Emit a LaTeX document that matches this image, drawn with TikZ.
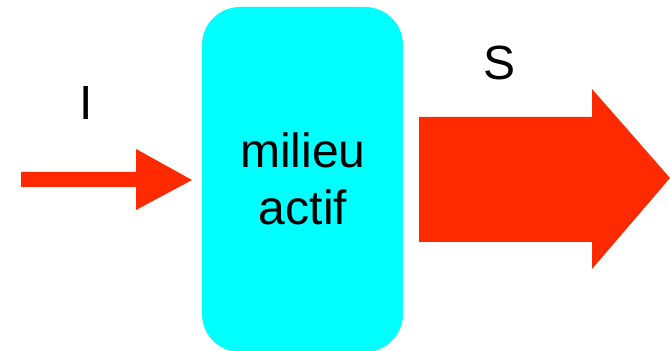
\documentclass[tikz,border=0pt]{standalone}
\usepackage{fontspec}
\setmainfont{Liberation Sans}
\definecolor{arrowred}{HTML}{FF2A00}
\definecolor{boxcyan}{HTML}{00FFFF}
\begin{document}
\begin{tikzpicture}[x=1pt,y=1pt,
  bigtext/.style={font=\fontsize{48}{57}\selectfont, inner sep=0pt},
  arrowshape/.style={fill=arrowred, draw=none}]
\useasboundingbox (0,0) rectangle (670,351);
\begin{scope}
\clip (0,0) rectangle (670,351);
\fill[boxcyan, rounded corners=38pt] (202,-1) rectangle (403,344);
\end{scope}
\node[bigtext, anchor=base] (milieu) at (303,183) {milieu};
\node[bigtext, anchor=base] (actif) at (303,126) {actif};
\node[bigtext, anchor=base] (I) at (86,231) {I};
\node[bigtext, anchor=base] (S) at (500,271) {S};
\fill[arrowshape] (21,179) -- (136,179) -- (136,202) -- (192,171) -- (136,141) -- (136,164) -- (21,164) -- cycle;
\fill[arrowshape] (419,234) -- (592,234) -- (592,262) -- (670,173) -- (592,82) -- (592,109) -- (419,109) -- cycle;
\end{tikzpicture}
\end{document}
